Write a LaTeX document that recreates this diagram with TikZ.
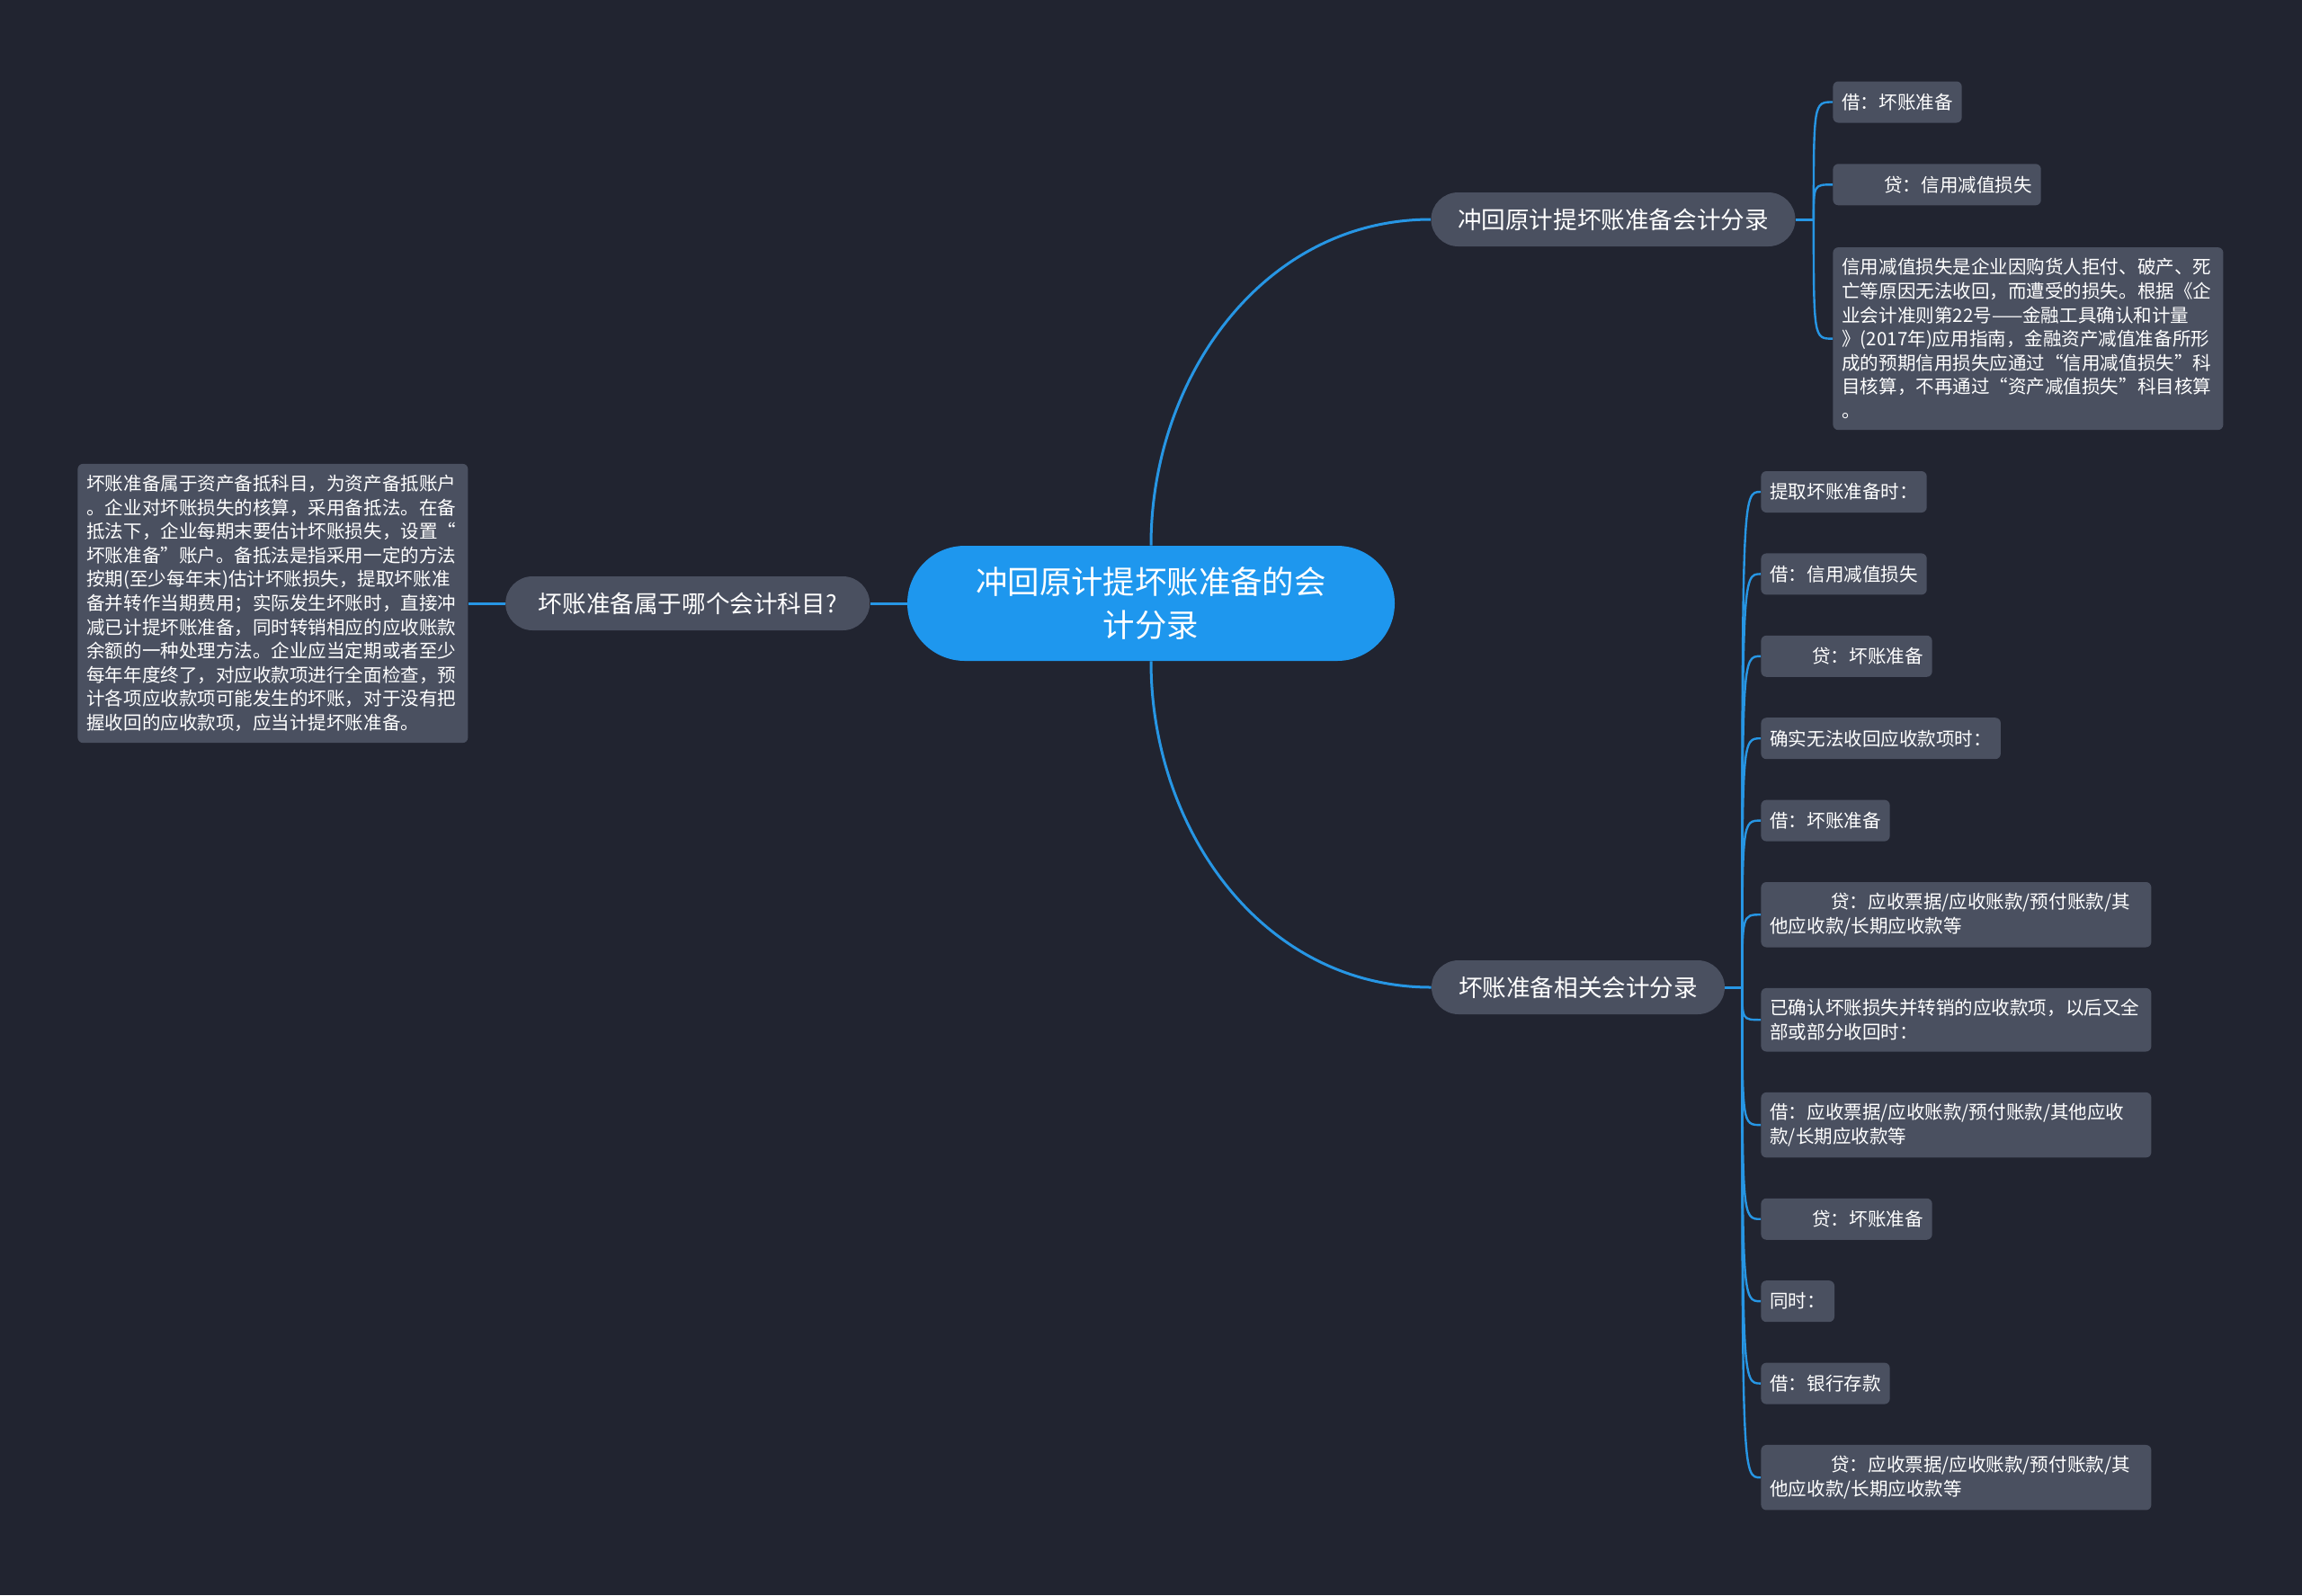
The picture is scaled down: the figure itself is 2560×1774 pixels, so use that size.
\documentclass[tikz,border=0pt]{standalone}
\usepackage{fontspec}
\newfontfamily\cjk{Noto Sans CJK SC}
\usepackage{xcolor}
\definecolor{Canvas}{HTML}{212430}
\definecolor{Topic}{HTML}{1E97EE}
\definecolor{Slate}{HTML}{4A5060}
\definecolor{Wire}{HTML}{2796E4}
\usepackage{tikz}
\usetikzlibrary{positioning}

\begin{document}
\begin{tikzpicture}[
  x=0.5pt, y=-0.5pt,
  font=\cjk,
  root/.style={fill=Topic, text=white, align=center, rounded corners=32pt,
               minimum width=271pt, minimum height=64pt,
               font=\cjk\fontsize{17.7}{23.7}\selectfont},
  topic/.style={fill=Slate, text=white, rounded corners=15pt,
                minimum height=30pt, inner xsep=14.5pt,
                font=\cjk\fontsize{13.3}{16}\selectfont},
  leaf/.style={fill=Slate, text=white, rounded corners=3pt, align=left,
               inner xsep=5pt, inner ysep=6.2pt, minimum height=23pt,
               font=\cjk\fontsize{10.27}{13.3}\selectfont},
  wide/.style={text width=207pt},
  link/.style={Wire, line width=1.5pt},
  twig/.style={Wire, line width=1.2pt}
]
  % canvas
  \fill[Canvas] (0,0) rectangle (2560,1774);

  % centre and main topics
  \node[root] (root) at (1280,671) {冲回原计提坏账准备的会\\计分录};
  \node[topic, minimum width=202.5pt] (rev) at (1794,244) {冲回原计提坏账准备会计分录};
  \node[topic, minimum width=163pt] (rel) at (1755,1098) {坏账准备相关会计分录};
  \node[topic, minimum width=202.5pt, left=20.5pt of root] (subj) {坏账准备属于哪个会计科目?};

  % left note
  \node[leaf, wide, left=20.5pt of subj] (note)
    {坏账准备属于资产备抵科目，为资产备抵账户\\
     。企业对坏账损失的核算，采用备抵法。在备\\
     抵法下，企业每期末要估计坏账损失，设置“\\
     坏账准备”账户。备抵法是指采用一定的方法\\
     按期(至少每年末)估计坏账损失，提取坏账准\\
     备并转作当期费用；实际发生坏账时，直接冲\\
     减已计提坏账准备，同时转销相应的应收账款\\
     余额的一种处理方法。企业应当定期或者至少\\
     每年年度终了，对应收款项进行全面检查，预\\
     计各项应收款项可能发生的坏账，对于没有把\\
     握收回的应收款项，应当计提坏账准备。};

  % reversal entries
  \node[leaf, anchor=west] (r1) at (2038,113.5) {借：坏账准备};
  \node[leaf, below=22.5pt of r1.south west, anchor=north west] (r2)
    {\hspace*{23.5pt}贷：信用减值损失};
  \node[leaf, wide, below=23pt of r2.south west, anchor=north west] (r3)
    {信用减值损失是企业因购货人拒付、破产、死\\
     亡等原因无法收回，而遭受的损失。根据《企\\
     业会计准则第22号——金融工具确认和计量\\
     》(2017年)应用指南，金融资产减值准备所形\\
     成的预期信用损失应通过“信用减值损失”科\\
     目核算，不再通过“资产减值损失”科目核算\\
     。};

  % related entries
  \node[leaf, anchor=west] (e1) at (1958,547) {提取坏账准备时：};
  \node[leaf, below=22.3pt of e1.south west, anchor=north west] (e2) {借：信用减值损失};
  \node[leaf, below=22.3pt of e2.south west, anchor=north west] (e3)
    {\hspace*{23.5pt}贷：坏账准备};
  \node[leaf, below=22.3pt of e3.south west, anchor=north west] (e4) {确实无法收回应收款项时：};
  \node[leaf, below=22.3pt of e4.south west, anchor=north west] (e5) {借：坏账准备};
  \node[leaf, wide, below=22.3pt of e5.south west, anchor=north west] (e6)
    {\hspace*{34pt}贷：应收票据/应收账款/预付账款/其\\他应收款/长期应收款等};
  \node[leaf, wide, below=22.3pt of e6.south west, anchor=north west] (e7)
    {已确认坏账损失并转销的应收款项，以后又全\\部或部分收回时：};
  \node[leaf, wide, below=22.3pt of e7.south west, anchor=north west] (e8)
    {借：应收票据/应收账款/预付账款/其他应收\\款/长期应收款等};
  \node[leaf, below=22.3pt of e8.south west, anchor=north west] (e9)
    {\hspace*{23.5pt}贷：坏账准备};
  \node[leaf, below=22.3pt of e9.south west, anchor=north west] (e10) {同时：};
  \node[leaf, below=22.3pt of e10.south west, anchor=north west] (e11) {借：银行存款};
  \node[leaf, wide, below=22.3pt of e11.south west, anchor=north west] (e12)
    {\hspace*{34pt}贷：应收票据/应收账款/预付账款/其\\他应收款/长期应收款等};

  % connectors
  \coordinate (jrev) at ([xshift=10pt]rev.east);
  \coordinate (jrel) at ([xshift=9.5pt]rel.east);
  \draw[link] (root.north) to[out=90, in=180] (rev.west);
  \draw[link] (root.south) to[out=-90, in=180] (rel.west);
  \draw[link] (root.west) -- (subj.east);
  \draw[link] (subj.west) -- (note.east);
  \draw[link] (rev.east) -- (jrev);
  \draw[link] (rel.east) -- (jrel);
  \foreach \n in {r1,r2,r3}
    \draw[twig] (jrev) .. controls (jrev |- \n.west) .. (\n.west);
  \foreach \n in {1,...,12}
    \draw[twig] (jrel) .. controls (jrel |- e\n.west) .. (e\n.west);
\end{tikzpicture}
\end{document}
